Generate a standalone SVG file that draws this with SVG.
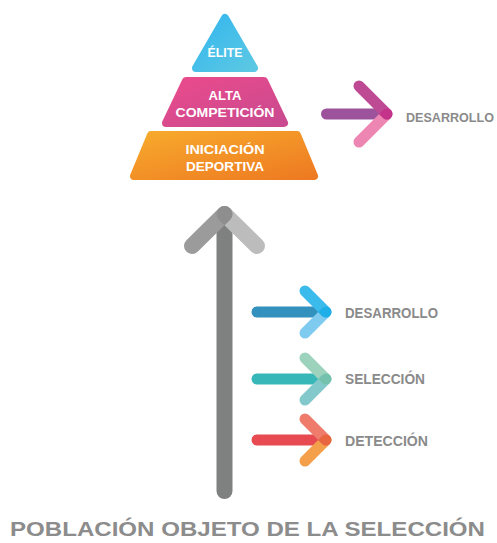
<svg xmlns="http://www.w3.org/2000/svg" width="497" height="543" viewBox="0 0 497 543">
<defs>
<style>
.pl{font-family:"Liberation Sans",Arial,sans-serif;font-weight:bold;font-size:13.5px;fill:#ffffff;text-anchor:middle}
.lb{font-family:"Liberation Sans",Arial,sans-serif;font-weight:bold;font-size:14px;fill:#8a8a8a}
.ttl{font-family:"Liberation Sans",Arial,sans-serif;font-weight:bold;font-size:21px;fill:#8c8c8c}
.ar{fill:none;stroke-linecap:round;stroke-width:11}
.big{fill:none;stroke-linecap:round;stroke-width:16}
.sh{stroke-linejoin:round;stroke-width:8}
</style>
<linearGradient id="gE" x1="0" y1="0" x2="1" y2="1"><stop offset="0" stop-color="#33b6ee"/><stop offset="1" stop-color="#5cc8e3"/></linearGradient>
<linearGradient id="gA" x1="0" y1="0" x2="1" y2="1"><stop offset="0" stop-color="#ea4b8c"/><stop offset="1" stop-color="#c94a8f"/></linearGradient>
<linearGradient id="gI" x1="0" y1="0" x2="1" y2="1"><stop offset="0" stop-color="#f7a92c"/><stop offset="1" stop-color="#ee7b22"/></linearGradient>
<mask id="mP" maskUnits="userSpaceOnUse" x="0" y="0" width="497" height="543"><line x1="387" y1="114" x2="359" y2="142" stroke="#fff" stroke-width="11" stroke-linecap="round"/></mask>
<mask id="mB" maskUnits="userSpaceOnUse" x="0" y="0" width="497" height="543"><line x1="326" y1="312" x2="305" y2="333" stroke="#fff" stroke-width="11" stroke-linecap="round"/></mask>
<mask id="mS" maskUnits="userSpaceOnUse" x="0" y="0" width="497" height="543"><line x1="326" y1="379" x2="305" y2="400" stroke="#fff" stroke-width="11" stroke-linecap="round"/></mask>
<mask id="mD" maskUnits="userSpaceOnUse" x="0" y="0" width="497" height="543"><line x1="326" y1="440" x2="305" y2="461" stroke="#fff" stroke-width="11" stroke-linecap="round"/></mask>
<mask id="mG" maskUnits="userSpaceOnUse" x="0" y="0" width="497" height="543"><line x1="224.5" y1="214" x2="257" y2="246" stroke="#fff" stroke-width="16" stroke-linecap="round"/></mask>
</defs>

<g id="connectors">
  <g id="arrow-main">
    <line class="big" x1="224.5" y1="230" x2="224.5" y2="491" stroke="#7f8080"/>
    <line class="big" x1="224.5" y1="214" x2="257" y2="246" stroke="#bcbcbc"/>
    <line class="big" x1="224.5" y1="214" x2="192" y2="246" stroke="#9b9b9b"/>
    <line class="big" x1="224.5" y1="214" x2="192" y2="246" stroke="#8e8e8e" mask="url(#mG)"/>
  </g>
  <g id="arrow-desarrollo-top">
    <line class="ar" x1="326.5" y1="114" x2="381" y2="114" stroke="#9c539c"/>
    <line class="ar" x1="387" y1="114" x2="359" y2="142" stroke="#ee86b3"/>
    <line class="ar" x1="387" y1="114" x2="359" y2="86" stroke="#bf4a94"/>
    <line class="ar" x1="387" y1="114" x2="359" y2="86" stroke="#c4338a" mask="url(#mP)"/>
  </g>
  <g id="arrow-desarrollo">
    <line class="ar" x1="257" y1="312" x2="320" y2="312" stroke="#3391bd"/>
    <line class="ar" x1="326" y1="312" x2="305" y2="333" stroke="#7fcbf0"/>
    <line class="ar" x1="326" y1="312" x2="305" y2="291" stroke="#3bbbec"/>
    <line class="ar" x1="326" y1="312" x2="305" y2="291" stroke="#1eaee8" mask="url(#mB)"/>
  </g>
  <g id="arrow-seleccion">
    <line class="ar" x1="257" y1="379" x2="320" y2="379" stroke="#37b7b8"/>
    <line class="ar" x1="326" y1="379" x2="305" y2="400" stroke="#83c9cc"/>
    <line class="ar" x1="326" y1="379" x2="305" y2="358" stroke="#9dd3bd"/>
    <line class="ar" x1="326" y1="379" x2="305" y2="358" stroke="#74c2ae" mask="url(#mS)"/>
  </g>
  <g id="arrow-deteccion">
    <line class="ar" x1="257" y1="440" x2="320" y2="440" stroke="#e84a51"/>
    <line class="ar" x1="326" y1="440" x2="305" y2="461" stroke="#f49f4a"/>
    <line class="ar" x1="326" y1="440" x2="305" y2="419" stroke="#ee7b6c"/>
    <line class="ar" x1="326" y1="440" x2="305" y2="419" stroke="#e8653f" mask="url(#mD)"/>
  </g>
</g>

<g id="elite">
  <polygon class="sh" points="225,18 254,68 196,68" fill="url(#gE)" stroke="url(#gE)"/>
  <text class="pl" x="225" y="57" textLength="35" lengthAdjust="spacingAndGlyphs">ÉLITE</text>
</g>
<g id="alta-competicion">
  <polygon class="sh" points="186,81 264,81 284,123 166,123" fill="url(#gA)" stroke="url(#gA)"/>
  <text class="pl" x="225" y="100" textLength="33" lengthAdjust="spacingAndGlyphs">ALTA</text>
  <text class="pl" x="225" y="116.7" textLength="99" lengthAdjust="spacingAndGlyphs">COMPETICIÓN</text>
</g>
<g id="iniciacion-deportiva">
  <polygon class="sh" points="151,135 297,135 314,176 134,176" fill="url(#gI)" stroke="url(#gI)"/>
  <text class="pl" x="225" y="154" textLength="79" lengthAdjust="spacingAndGlyphs">INICIACIÓN</text>
  <text class="pl" x="225" y="171" textLength="78" lengthAdjust="spacingAndGlyphs">DEPORTIVA</text>
</g>

<g id="label-desarrollo-top"><text class="lb" x="406" y="121.5" style="font-size:12.6px" textLength="88" lengthAdjust="spacingAndGlyphs">DESARROLLO</text></g>
<g id="label-desarrollo"><text class="lb" x="345" y="317.5" textLength="93" lengthAdjust="spacingAndGlyphs">DESARROLLO</text></g>
<g id="label-seleccion"><text class="lb" x="345" y="384" textLength="80" lengthAdjust="spacingAndGlyphs">SELECCIÓN</text></g>
<g id="label-deteccion"><text class="lb" x="345" y="446" textLength="83" lengthAdjust="spacingAndGlyphs">DETECCIÓN</text></g>
<g id="title"><text class="ttl" x="10" y="536" textLength="475" lengthAdjust="spacingAndGlyphs">POBLACIÓN OBJETO DE LA SELECCIÓN</text></g>
</svg>
